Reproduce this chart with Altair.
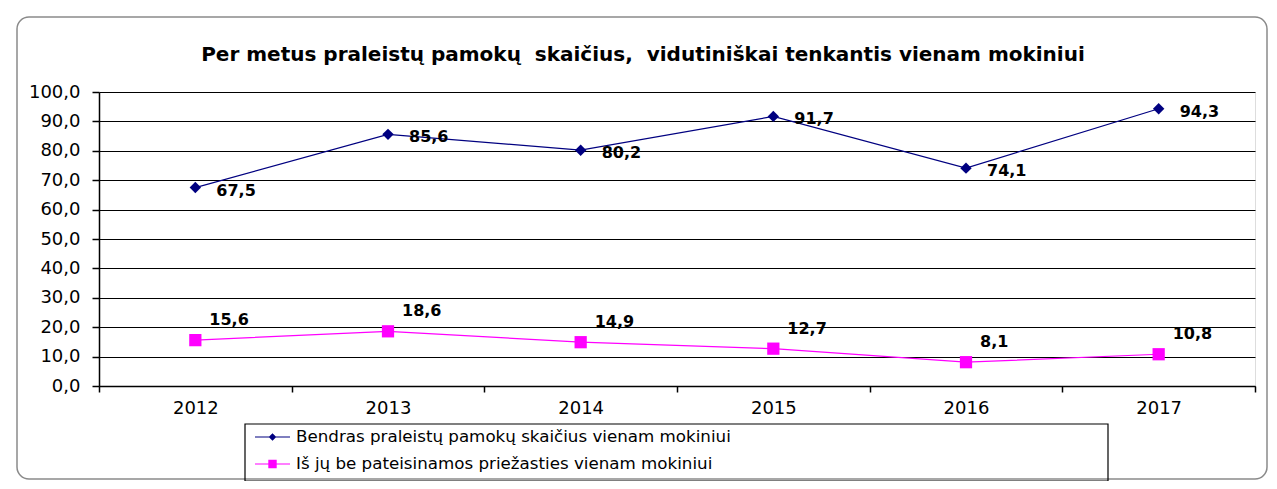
import altair as alt
import pandas as pd

# ---- data ----
years = ["2012", "2013", "2014", "2015", "2016", "2017"]
total = [67.5, 85.6, 80.2, 91.7, 74.1, 94.3]
unexcused = [15.6, 18.6, 14.9, 12.7, 8.1, 10.8]
series_names = [
    "Bendras praleistų pamokų skaičius vienam mokiniui",
    "Iš jų be pateisinamos priežasties vienam mokiniui",
]
title_text = "Per metus praleistų pamokų\u00a0 skaičius,\u00a0 vidutiniškai tenkantis vienam mokiniui"
y_ticks = [0, 10, 20, 30, 40, 50, 60, 70, 80, 90, 100]

# ---- styles ----
FONT = "DejaVu Sans"
NAVY = "#000080"
MAGENTA = "#FF00FF"
S1, S2 = series_names

df = pd.DataFrame({
    "year": years + years,
    "series": [S1] * len(years) + [S2] * len(years),
    "value": total + unexcused,
})
df["label"] = df["value"].map(lambda v: f"{v:.1f}".replace(".", ","))
one = pd.DataFrame({"t": [title_text]})

x = alt.X(
    "year:N",
    bandPosition=0.5,
    scale=alt.Scale(type="band", domain=years, paddingInner=0, paddingOuter=0),
    axis=alt.Axis(
        title=None, labelAngle=0, tickBand="extent", grid=False,
        labelFont=FONT, labelFontSize=18, labelColor="black", labelPadding=7,
        tickSize=6, tickColor="black", tickWidth=1.5,
        domainColor="black", domainWidth=1.5,
    ),
)
y = alt.Y(
    "value:Q",
    scale=alt.Scale(domain=[0, 100], nice=False),
    axis=alt.Axis(
        title=None, values=y_ticks,
        labelExpr="replace(format(datum.value, '.1f'), '.', ',')",
        labelFont=FONT, labelFontSize=18, labelColor="black", labelPadding=12,
        tickSize=7, tickColor="black", tickWidth=1.5,
        domainColor="black", domainWidth=1.5,
        grid=True, gridColor="black", gridWidth=1.2,
    ),
)

frame = alt.Chart(one).mark_rect(
    fill="transparent", stroke="#8a8a8a", strokeWidth=1.5, cornerRadius=12
).encode(x=alt.value(-82), x2=alt.value(1168), y=alt.value(-75), y2=alt.value(387))

title = alt.Chart(one).mark_text(
    font=FONT, fontSize=20, fontWeight="bold", color="black",
    align="center", baseline="alphabetic"
).encode(x=alt.value(544), y=alt.value(-31), text="t:N")

legend_box = alt.Chart(one).mark_rect(
    fill="transparent", stroke="black", strokeWidth=1.2
).encode(x=alt.value(146), x2=alt.value(1009), y=alt.value(332), y2=alt.value(389))

line1 = alt.Chart(df).transform_filter(alt.datum.series == S1).mark_line(
    color=NAVY, strokeWidth=1.2).encode(x=x, y=y)
line2 = alt.Chart(df).transform_filter(alt.datum.series == S2).mark_line(
    color=MAGENTA, strokeWidth=1.2).encode(x=x, y=y)
pts1 = alt.Chart(df).transform_filter(alt.datum.series == S1).mark_point(
    shape="diamond", filled=True, size=130, color=NAVY, opacity=1).encode(x=x, y=y)
pts2 = alt.Chart(df).transform_filter(alt.datum.series == S2).mark_point(
    shape="square", filled=True, size=150, color=MAGENTA, opacity=1).encode(x=x, y=y)
txt1 = alt.Chart(df).transform_filter(alt.datum.series == S1).mark_text(
    align="left", baseline="middle", dx=21, dy=3, font=FONT, fontSize=16,
    fontWeight="bold", color="black").encode(x=x, y=y, text="label:N")
txt2 = alt.Chart(df).transform_filter(alt.datum.series == S2).mark_text(
    align="left", baseline="middle", dx=14, dy=-20, font=FONT, fontSize=16,
    fontWeight="bold", color="black").encode(x=x, y=y, text="label:N")

path1 = "M-1.75,-0.06H1.75V0.06H-1.75ZM0,-0.38L0.38,0L0,0.38L-0.38,0Z"
path2 = "M-1.75,-0.06H1.75V0.06H-1.75ZM-0.42,-0.42H0.42V0.42H-0.42Z"
leg = alt.Legend(
    title=None, orient="none", legendX=163.5, legendY=335, padding=0,
    symbolSize=400, symbolStrokeWidth=0, labelFont=FONT, labelFontSize=16.7,
    labelColor="black", labelOffset=13.5, rowPadding=8, labelLimit=900,
)
legend_layer = alt.Chart(df).transform_filter("false").mark_point(
    filled=True, opacity=1).encode(
    x=x, y=y,
    color=alt.Color("series:N", scale=alt.Scale(domain=series_names, range=[NAVY, MAGENTA]), legend=leg),
    shape=alt.Shape("series:N", scale=alt.Scale(domain=series_names, range=[path1, path2]), legend=leg),
)

chart = alt.layer(
    frame, title, legend_box, line1, line2, pts1, pts2, txt1, txt2, legend_layer
).properties(
    width=1156, height=294,
    autosize="none",
    padding={"left": 91, "top": 84, "right": 14, "bottom": 95},
).configure_view(
    fill="#C0C0C0", stroke="#808080", strokeWidth=1
).configure(background="white")

chart.save("out.html", embed_options={"renderer": "svg", "actions": False})
